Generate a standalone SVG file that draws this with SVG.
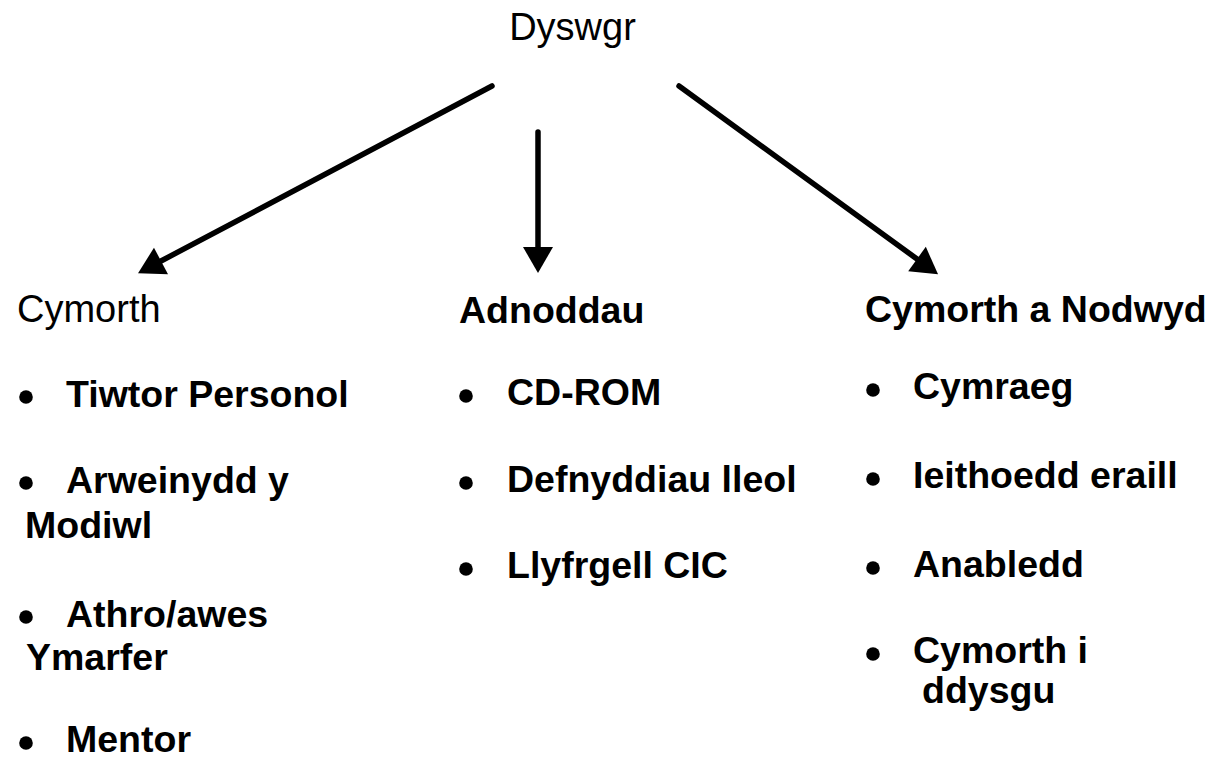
<svg xmlns="http://www.w3.org/2000/svg" width="1209" height="761" viewBox="0 0 1209 761">
<style>
.t{font-family:"Liberation Sans",Arial,sans-serif;fill:#000}
.h{font-size:38px}
.b{font-size:37.5px;font-weight:bold}
.bul{fill:#000}
.c{stroke:#000;stroke-width:5.5;stroke-linecap:round;fill:none}
</style>
<defs>
<marker id="ah" markerUnits="userSpaceOnUse" markerWidth="27" markerHeight="30" refX="0" refY="15" orient="auto" overflow="visible">
<path d="M0,0 L26,15 L0,30 Z" fill="#000"/>
</marker>
</defs>
<rect width="1209" height="761" fill="#fff"/>
<g id="connectors">
<line class="c" x1="492" y1="86" x2="161" y2="261" marker-end="url(#ah)"/>
<line class="c" x1="538" y1="132" x2="538" y2="247" marker-end="url(#ah)"/>
<line class="c" x1="679" y1="86" x2="917" y2="259" marker-end="url(#ah)"/>
</g>
<g id="node-dyswgr">
<text class="t h" x="572.5" y="40" text-anchor="middle">Dyswgr</text>
</g>
<g id="node-cymorth">
<text class="t h" x="17" y="322">Cymorth</text>
<circle class="bul" cx="26" cy="397" r="6.8"/>
<text class="t b" x="66" y="407">Tiwtor Personol</text>
<circle class="bul" cx="26" cy="483" r="6.8"/>
<text class="t b" x="66" y="493">Arweinydd y</text>
<text class="t b" x="25" y="538">Modiwl</text>
<circle class="bul" cx="26" cy="617" r="6.8"/>
<text class="t b" x="66" y="627">Athro/awes</text>
<text class="t b" x="26" y="670">Ymarfer</text>
<circle class="bul" cx="26" cy="743" r="6.8"/>
<text class="t b" x="66" y="752">Mentor</text>
</g>
<g id="node-adnoddau">
<text class="t b" x="459" y="323">Adnoddau</text>
<circle class="bul" cx="466" cy="396" r="6.8"/>
<text class="t b" x="507" y="405">CD-ROM</text>
<circle class="bul" cx="466" cy="483" r="6.8"/>
<text class="t b" x="507" y="492">Defnyddiau lleol</text>
<circle class="bul" cx="466" cy="569" r="6.8"/>
<text class="t b" x="507" y="578">Llyfrgell CIC</text>
</g>
<g id="node-nodwyd">
<text class="t b" x="865" y="322">Cymorth a Nodwyd</text>
<circle class="bul" cx="873" cy="390" r="6.8"/>
<text class="t b" x="913" y="399">Cymraeg</text>
<circle class="bul" cx="873" cy="479" r="6.8"/>
<text class="t b" x="913" y="488">Ieithoedd eraill</text>
<circle class="bul" cx="873" cy="568" r="6.8"/>
<text class="t b" x="913" y="577">Anabledd</text>
<circle class="bul" cx="873" cy="654" r="6.8"/>
<text class="t b" x="913" y="663">Cymorth i</text>
<text class="t b" x="922" y="703">ddysgu</text>
</g>
</svg>
